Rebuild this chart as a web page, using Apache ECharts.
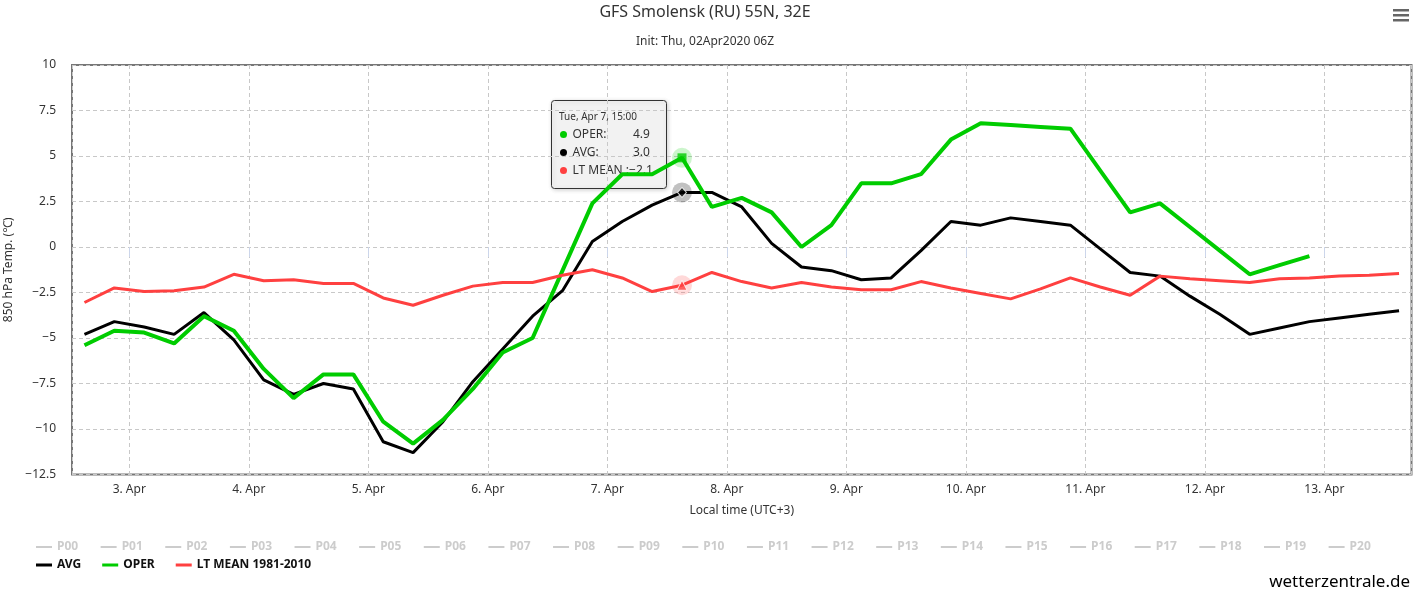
<!DOCTYPE html>
<html><head><meta charset="utf-8">
<script src="https://cdn.jsdelivr.net/npm/echarts@6/dist/echarts.min.js"></script>
<style>html,body{margin:0;padding:0;background:#fff}#c{width:1419px;height:592px}</style>
</head><body><div id="c"></div>
<script>
// local time (UTC+3) encoded as UTC timestamps; chart uses useUTC
const startLocal = Date.UTC(2020, 3, 2, 15, 0);
const stepHours = 6;
const axisMin = Date.UTC(2020, 3, 2, 12, 30);
const axisMax = Date.UTC(2020, 3, 13, 17, 30);

const avg = [-4.8, -4.1, -4.4, -4.8, -3.6, -5.1, -7.3, -8.1, -7.5, -7.8,
  -10.7, -11.3, -9.6, -7.4, -5.6, -3.8, -2.4, 0.3, 1.4, 2.3,
  3.0, 3.0, 2.2, 0.2, -1.1, -1.3, -1.8, -1.7, -0.2, 1.4,
  1.2, 1.6, 1.4, 1.2, -0.1, -1.4, -1.6, -2.7, -3.7, -4.8,
  -4.45, -4.1, -3.9, -3.7, -3.5];
const oper = [-5.4, -4.6, -4.7, -5.3, -3.8, -4.6, -6.7, -8.3, -7.0, -7.0,
  -9.6, -10.8, -9.5, -7.8, -5.8, -5.0, -1.3, 2.4, 4.0, 4.0,
  4.9, 2.2, 2.7, 1.9, 0.0, 1.2, 3.5, 3.5, 4.0, 5.9,
  6.8, 6.7, 6.6, 6.5, 4.2, 1.9, 2.4, 1.1, -0.2, -1.5,
  -1.0, -0.5];
const ltMean = [-3.05, -2.25, -2.45, -2.4, -2.2, -1.5, -1.85, -1.8, -2.0, -2.0,
  -2.8, -3.2, -2.65, -2.15, -1.95, -1.95, -1.55, -1.25, -1.7, -2.45,
  -2.1, -1.4, -1.9, -2.25, -1.95, -2.2, -2.35, -2.35, -1.9, -2.25,
  -2.55, -2.85, -2.3, -1.7, -2.2, -2.65, -1.6, -1.75, -1.85, -1.95,
  -1.75, -1.7, -1.6, -1.55, -1.45];
const members = ['P00','P01','P02','P03','P04','P05','P06','P07','P08','P09','P10',
  'P11','P12','P13','P14','P15','P16','P17','P18','P19','P20'];
const mainNames = ['AVG', 'OPER', 'LT MEAN 1981-2010'];
const yTicks = { min: -12.5, max: 10, step: 2.5 };
const highlightIndex = 20;

const HOUR = 3600 * 1000;
const times = avg.map((_, i) => startLocal + i * stepHours * HOUR);
const pairs = arr => arr.map((v, i) => [times[i], v]);
const minus = v => (v < 0 ? '\u2212' + Math.abs(v) : String(v));
const fmt1 = v => (v < 0 ? '\u2212' + Math.abs(v).toFixed(1) : v.toFixed(1));

const FONT = 'Noto Sans';
const cGreen = '#00cc00', cBlack = '#000000', cRed = '#ff4040';

const hd = new Date(times[highlightIndex]);
const wd = ['Sun','Mon','Tue','Wed','Thu','Fri','Sat'][hd.getUTCDay()];
const hh = String(hd.getUTCHours()).padStart(2, '0') + ':' + String(hd.getUTCMinutes()).padStart(2, '0');
const tipHeader = wd + ', Apr ' + hd.getUTCDate() + ', ' + hh;

const memberSeries = members.map(n => ({ name: n, type: 'line', data: [], showSymbol: false, color: '#ccc' }));
const selected = {};
members.forEach(n => selected[n] = false);

const chart = echarts.init(document.getElementById('c'), null, { renderer: 'canvas' });
const option = {
  useUTC: true,
  animation: false,
  backgroundColor: '#fff',
  title: [
    { text: 'GFS Smolensk (RU) 55N, 32E', left: 705, top: 4, padding: 0, textAlign: 'center',
      textStyle: { fontFamily: FONT, fontSize: 16, fontWeight: 'normal', color: '#333' } },
    { text: 'Init: Thu, 02Apr2020 06Z', left: 705, top: 36, padding: 0, textAlign: 'center',
      textStyle: { fontFamily: FONT, fontSize: 12, fontWeight: 'normal', color: '#333' } }
  ],
  legend: [
    { data: members, left: 36, top: 541, padding: 0, itemWidth: 16, itemHeight: 2, itemGap: 22.45,
      icon: 'rect', inactiveColor: '#cccccc', selected: selected, itemStyle: { borderWidth: 0 },
      textStyle: { fontFamily: FONT, fontSize: 12, fontWeight: 'bold', color: '#ccc' } },
    { data: mainNames, left: 36, top: 559, padding: 0, itemWidth: 16, itemHeight: 3, itemGap: 21,
      icon: 'rect', itemStyle: { borderWidth: 0 },
      textStyle: { fontFamily: FONT, fontSize: 12, fontWeight: 'bold', color: '#111' } }
  ],
  grid: { left: 72, right: 7.5, top: 65, bottom: 117.5, show: true, borderColor: '#777', borderWidth: 2,
    containLabel: false, outerBoundsMode: 'none' },
  xAxis: {
    type: 'time', min: axisMin, max: axisMax,
    minInterval: 24 * HOUR, maxInterval: 24 * HOUR, splitNumber: 12,
    axisLine: { show: false },
    axisTick: { show: true, length: 10, lineStyle: { color: '#ccd6eb' } },
    axisLabel: {
      color: '#333', fontFamily: FONT, fontSize: 12, margin: 9,
      formatter: v => { const d = new Date(v); return (d.getUTCHours() === 0 && d.getUTCMinutes() === 0) ? d.getUTCDate() + '. Apr' : ''; }
    },
    splitLine: { show: true, lineStyle: { color: '#c8c8c8', type: [4, 3], width: 1 } },
    name: 'Local time (UTC+3)', nameLocation: 'middle', nameGap: 30,
    nameTextStyle: { fontFamily: FONT, fontSize: 12, color: '#333' }
  },
  yAxis: {
    type: 'value', min: yTicks.min, max: yTicks.max, interval: yTicks.step,
    axisLine: { show: false }, axisTick: { show: false },
    axisLabel: { color: '#333', fontFamily: FONT, fontSize: 12, margin: 16, formatter: minus },
    splitLine: { show: true, lineStyle: { color: '#c8c8c8', type: [4, 3], width: 1 } },
    name: '850 hPa Temp. (\u2103)', nameLocation: 'middle', nameGap: 56,
    nameTextStyle: { fontFamily: FONT, fontSize: 12, color: '#333' }
  },
  series: memberSeries.concat([
    { name: 'AVG', type: 'line', data: pairs(avg), color: cBlack, showSymbol: false, symbol: 'none',
      lineStyle: { width: 3, color: cBlack }, z: 3 },
    { name: 'OPER', type: 'line', data: pairs(oper), color: cGreen, showSymbol: false, symbol: 'none',
      lineStyle: { width: 4, color: cGreen }, z: 3 },
    { name: 'LT MEAN 1981-2010', type: 'line', data: pairs(ltMean), color: cRed, showSymbol: false, symbol: 'none',
      lineStyle: { width: 3, color: cRed }, z: 3 },
    { name: 'halo', type: 'scatter', silent: true, z: 4, symbol: 'circle', symbolSize: 20,
      data: [
        { value: [times[highlightIndex], oper[highlightIndex]], itemStyle: { color: 'rgba(0,204,0,0.25)' } },
        { value: [times[highlightIndex], avg[highlightIndex]], itemStyle: { color: 'rgba(0,0,0,0.3)' } },
        { value: [times[highlightIndex], ltMean[highlightIndex]], itemStyle: { color: 'rgba(255,64,64,0.25)' } }
      ] },
    { name: 'marker', type: 'scatter', silent: true, z: 5,
      data: [
        { value: [times[highlightIndex], oper[highlightIndex]], symbol: 'rect', symbolSize: 9, itemStyle: { color: cGreen } },
        { value: [times[highlightIndex], avg[highlightIndex]], symbol: 'diamond', symbolSize: [9, 10], itemStyle: { color: cBlack, borderColor: '#fff', borderWidth: 1 } },
        { value: [times[highlightIndex], ltMean[highlightIndex]], symbol: 'triangle', symbolSize: 10, itemStyle: { color: cRed, borderColor: '#fff', borderWidth: 1 } }
      ] }
  ]),
  graphic: [
    { type: 'rect', left: 1393, top: 9, shape: { width: 16, height: 2.5 }, style: { fill: '#666' } },
    { type: 'rect', left: 1393, top: 14, shape: { width: 16, height: 2.5 }, style: { fill: '#666' } },
    { type: 'rect', left: 1393, top: 19, shape: { width: 16, height: 2.5 }, style: { fill: '#666' } },
    { type: 'text', x: 1410, y: 582, style: { text: 'wetterzentrale.de', font: '17px "Noto Sans"', fill: '#000',
      align: 'right', verticalAlign: 'middle', textAlign: 'right', textVerticalAlign: 'middle' } },
    { type: 'group', z: 100, children: [
      { type: 'rect', x: 551.5, y: 100.5, shape: { width: 115, height: 88, r: 3 },
        style: { fill: 'rgba(247,247,247,0.85)', stroke: '#333', lineWidth: 1,
          shadowBlur: 4, shadowOffsetX: 1, shadowOffsetY: 1, shadowColor: 'rgba(0,0,0,0.2)' } },
      { type: 'text', x: 559, y: 117, style: { text: tipHeader, font: '10px "Noto Sans"', fill: '#333', verticalAlign: 'middle', textVerticalAlign: 'middle' } },
      { type: 'circle', shape: { cx: 563.5, cy: 134.5, r: 3.5 }, style: { fill: cGreen } },
      { type: 'text', x: 572.5, y: 134.5, style: { text: 'OPER:', font: '12px "Noto Sans"', fill: '#333', verticalAlign: 'middle', textVerticalAlign: 'middle' } },
      { type: 'text', x: 633, y: 134.5, style: { text: fmt1(oper[highlightIndex]), font: '12px "Noto Sans"', fill: '#333', verticalAlign: 'middle', textVerticalAlign: 'middle' } },
      { type: 'circle', shape: { cx: 563.5, cy: 152.5, r: 3.5 }, style: { fill: cBlack } },
      { type: 'text', x: 572.5, y: 152.5, style: { text: 'AVG:', font: '12px "Noto Sans"', fill: '#333', verticalAlign: 'middle', textVerticalAlign: 'middle' } },
      { type: 'text', x: 633, y: 152.5, style: { text: fmt1(avg[highlightIndex]), font: '12px "Noto Sans"', fill: '#333', verticalAlign: 'middle', textVerticalAlign: 'middle' } },
      { type: 'circle', shape: { cx: 563.5, cy: 170.5, r: 3.5 }, style: { fill: cRed } },
      { type: 'text', x: 572.5, y: 170.5, style: { text: 'LT MEAN :' + fmt1(ltMean[highlightIndex]), font: '12px "Noto Sans"', fill: '#333', verticalAlign: 'middle', textVerticalAlign: 'middle' } }
    ] }
  ]
};
chart.setOption(option);
</script>
</body></html>
